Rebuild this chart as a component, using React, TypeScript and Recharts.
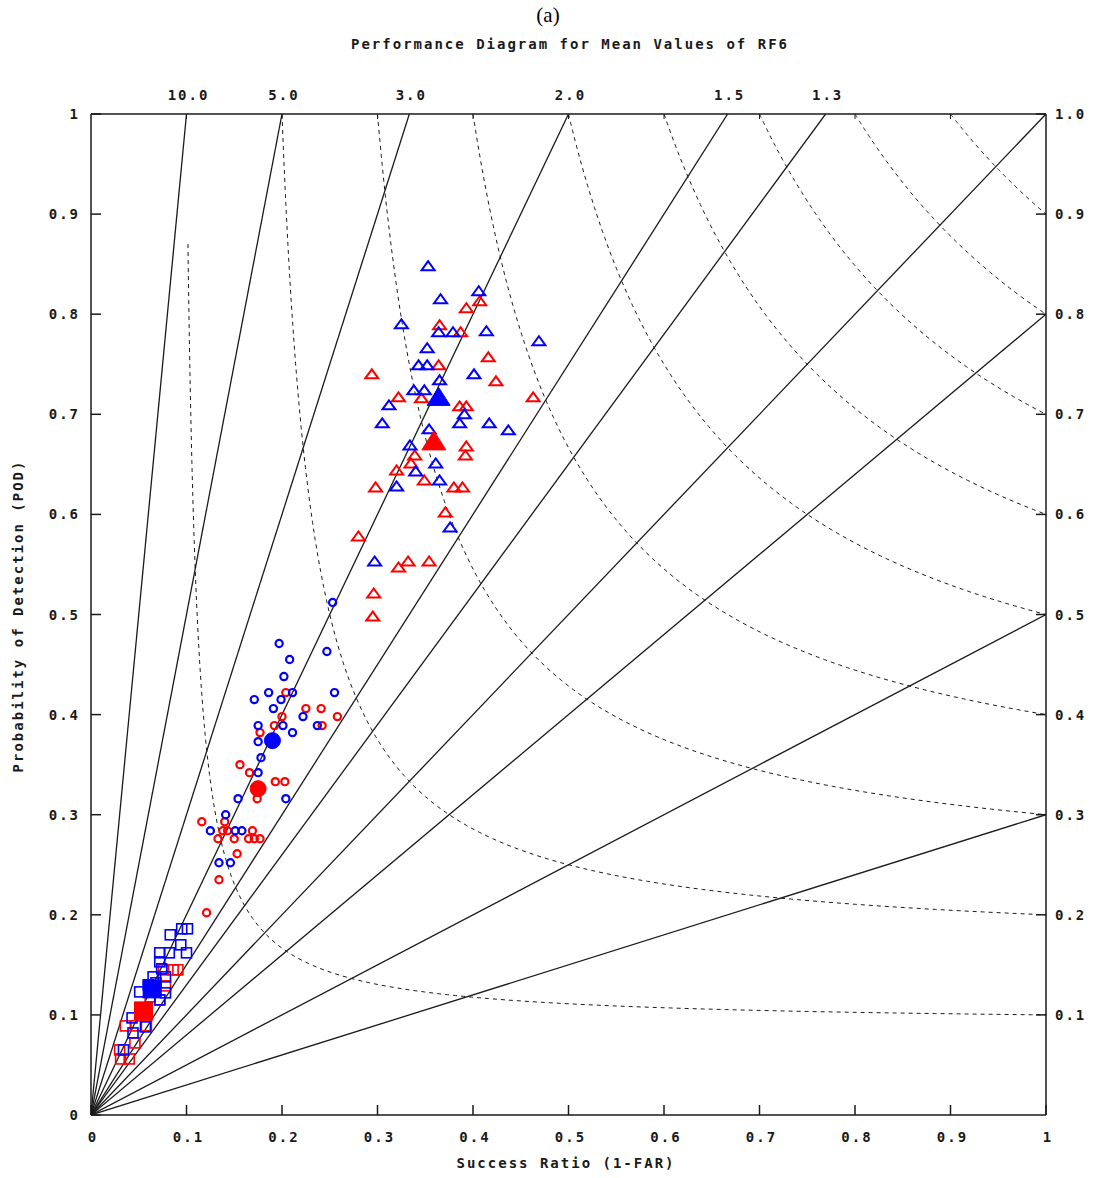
import React from "react";
import { ComposedChart, XAxis, YAxis, Line, Scatter } from "recharts";

// chart geometry (page is 1094x1178)
const W = 1094;
const H = 1178;
const TOP_AXIS_H = 40;
const BOTTOM_AXIS_H = 63;
const LEFT_AXIS_W = 91;
const RIGHT_AXIS_W = 48;
const PLOT_TOP = 114;

const INK = "#1a1a1a";
const RED = "#ff0000";
const BLUE = "#0000ff";

// axis ticks
const X_TICKS = [0, 0.1, 0.2, 0.3, 0.4, 0.5, 0.6, 0.7, 0.8, 0.9, 1];
const X_TICK_LABELS = ["0", "0.1", "0.2", "0.3", "0.4", "0.5", "0.6", "0.7", "0.8", "0.9", "1"];
const Y_TICKS = [0, 0.1, 0.2, 0.3, 0.4, 0.5, 0.6, 0.7, 0.8, 0.9, 1];
const Y_TICK_LABELS = ["0", "0.1", "0.2", "0.3", "0.4", "0.5", "0.6", "0.7", "0.8", "0.9", "1"];
const RIGHT_TICKS = [0.1, 0.2, 0.3, 0.4, 0.5, 0.6, 0.7, 0.8, 0.9, 1];
const RIGHT_TICK_LABELS = ["0.1", "0.2", "0.3", "0.4", "0.5", "0.6", "0.7", "0.8", "0.9", "1.0"];
const TOP_MINOR_TICKS = [0.1, 0.2, 0.3, 0.4, 0.5, 0.6, 0.7, 0.8, 0.9];

// frequency bias lines and the labels shown along the top
const BIAS_LEVELS = [10, 5, 3, 2, 1.5, 1.3, 1.0, 0.8, 0.5, 0.3];
const BIAS_TOP = [10, 5, 3, 2, 1.5, 1.3];
const BIAS_TOP_LABELS = ["10.0", "5.0", "3.0", "2.0", "1.5", "1.3"];

// critical success index contours (csi 0.1 is only drawn from POD 0.87 down)
const CSI_LEVELS = [0.1, 0.2, 0.3, 0.4, 0.5, 0.6, 0.7, 0.8, 0.9];
const CSI_TOP_POD = [0.87, 1, 1, 1, 1, 1, 1, 1, 1];

// [success ratio, POD]
const redTriangles = [
  [0.407, 0.813], [0.393, 0.806], [0.365, 0.789], [0.387, 0.782], [0.364, 0.749],
  [0.294, 0.740], [0.416, 0.757], [0.424, 0.733], [0.322, 0.717], [0.346, 0.716],
  [0.386, 0.708], [0.393, 0.708], [0.463, 0.717], [0.393, 0.668], [0.392, 0.659],
  [0.339, 0.659], [0.335, 0.651], [0.320, 0.644], [0.349, 0.634], [0.298, 0.627],
  [0.380, 0.627], [0.389, 0.627], [0.371, 0.602], [0.280, 0.578], [0.332, 0.553],
  [0.322, 0.547], [0.354, 0.553], [0.296, 0.521], [0.295, 0.498],
];
const blueTriangles = [
  [0.353, 0.848], [0.366, 0.815], [0.406, 0.823], [0.325, 0.790], [0.364, 0.782],
  [0.379, 0.782], [0.414, 0.783], [0.469, 0.773], [0.352, 0.766], [0.343, 0.749],
  [0.352, 0.749], [0.401, 0.740], [0.365, 0.734], [0.338, 0.724], [0.349, 0.724],
  [0.312, 0.709], [0.305, 0.691], [0.391, 0.700], [0.386, 0.691], [0.417, 0.691],
  [0.437, 0.684], [0.354, 0.685], [0.334, 0.669], [0.361, 0.651], [0.340, 0.643],
  [0.365, 0.634], [0.320, 0.628], [0.376, 0.587], [0.297, 0.553],
];
const redCircles = [
  [0.204, 0.422], [0.225, 0.406], [0.241, 0.406], [0.258, 0.398], [0.200, 0.398],
  [0.192, 0.389], [0.242, 0.389], [0.177, 0.382], [0.156, 0.350], [0.166, 0.342],
  [0.193, 0.333], [0.203, 0.333], [0.174, 0.316], [0.116, 0.293], [0.140, 0.293],
  [0.138, 0.284], [0.143, 0.284], [0.133, 0.276], [0.150, 0.276], [0.169, 0.284],
  [0.165, 0.276], [0.171, 0.276], [0.177, 0.276], [0.153, 0.261], [0.134, 0.235],
  [0.121, 0.202],
];
const blueCircles = [
  [0.253, 0.512], [0.197, 0.471], [0.247, 0.463], [0.208, 0.455], [0.202, 0.438],
  [0.186, 0.422], [0.171, 0.415], [0.211, 0.422], [0.255, 0.422], [0.199, 0.415],
  [0.191, 0.406], [0.222, 0.398], [0.175, 0.389], [0.201, 0.389], [0.237, 0.389],
  [0.211, 0.382], [0.175, 0.373], [0.178, 0.357], [0.175, 0.342], [0.154, 0.316],
  [0.204, 0.316], [0.141, 0.300], [0.125, 0.284], [0.151, 0.284], [0.158, 0.284],
  [0.134, 0.252], [0.146, 0.252],
];
const redSquares = [
  [0.076, 0.145], [0.086, 0.145], [0.091, 0.145], [0.078, 0.129], [0.072, 0.115],
  [0.062, 0.118], [0.036, 0.089], [0.047, 0.089], [0.058, 0.089], [0.046, 0.072],
  [0.030, 0.065], [0.031, 0.056], [0.040, 0.056],
];
const blueSquares = [
  [0.095, 0.186], [0.101, 0.186], [0.083, 0.180], [0.094, 0.170], [0.100, 0.162],
  [0.072, 0.162], [0.082, 0.162], [0.072, 0.153], [0.074, 0.146], [0.065, 0.138],
  [0.078, 0.138], [0.060, 0.130], [0.068, 0.132], [0.051, 0.123], [0.078, 0.122],
  [0.072, 0.115], [0.043, 0.097], [0.057, 0.088], [0.044, 0.082], [0.034, 0.065],
];
const redMeans = { tri: [0.359, 0.673], circ: [0.175, 0.326], sq: [0.055, 0.104] };
const blueMeans = { tri: [0.364, 0.717], circ: [0.190, 0.374], sq: [0.064, 0.126] };

const toPts = (arr: number[][]) => arr.map(([x, y]) => ({ x, y }));

const biasLines = BIAS_LEVELS.map((b) => ({
  b,
  data: [
    { x: 0, y: 0 },
    { x: Math.min(1, 1 / b), y: Math.min(1, b) },
  ],
}));

// contour of constant csi: 1/csi = 1/sr + 1/pod - 1
const csiLines = CSI_LEVELS.map((c, i) => {
  const top = CSI_TOP_POD[i];
  const s0 = 1 / (1 / c + 1 - 1 / top);
  const data: { x: number; y: number }[] = [];
  const n = 120;
  for (let k = 0; k <= n; k++) {
    const t = k / n;
    const sr = s0 + (1 - s0) * t * t;
    data.push({ x: sr, y: 1 / (1 / c + 1 - 1 / sr) });
  }
  return { c, data };
});

const monoFont: React.CSSProperties = {
  fontFamily: "'DejaVu Sans Mono', monospace",
  fontWeight: "bold",
  fontSize: 14,
  letterSpacing: 2,
};

const LeftTick = (p: any) => {
  const i = Y_TICKS.indexOf(p.payload.value);
  return (
    <g>
      <line x1={p.x} y1={p.y} x2={p.x + 10} y2={p.y} stroke={INK} strokeWidth={1.5} />
      <text x={p.x - 11} y={p.y + 5} textAnchor="end" fill={INK} style={monoFont}>
        {Y_TICK_LABELS[i]}
      </text>
    </g>
  );
};

const RightTick = (p: any) => {
  const i = RIGHT_TICKS.indexOf(p.payload.value);
  return (
    <g>
      <line x1={p.x - 10} y1={p.y} x2={p.x} y2={p.y} stroke={INK} strokeWidth={1.5} />
      <text x={p.x + 9} y={p.y + 5} textAnchor="start" fill={INK} style={monoFont}>
        {RIGHT_TICK_LABELS[i]}
      </text>
    </g>
  );
};

const BottomTick = (p: any) => {
  const i = X_TICKS.indexOf(p.payload.value);
  return (
    <g>
      <line x1={p.x} y1={p.y - 10} x2={p.x} y2={p.y} stroke={INK} strokeWidth={1.5} />
      <text x={p.x + 2} y={p.y + 27} textAnchor="middle" fill={INK} style={monoFont}>
        {X_TICK_LABELS[i]}
      </text>
    </g>
  );
};

// minor ticks plus the bias label positions, without duplicates
const topTickValues = [...TOP_MINOR_TICKS, ...BIAS_TOP.map((b) => 1 / b)]
  .sort((a, b) => a - b)
  .filter((v, i, arr) => i === 0 || Math.abs(v - arr[i - 1]) > 1e-6);

const TopTick = (p: any) => {
  const v = p.payload.value;
  const bi = BIAS_TOP.findIndex((b) => Math.abs(1 / b - v) < 1e-6);
  const minor = TOP_MINOR_TICKS.some((t) => Math.abs(t - v) < 1e-6);
  return (
    <g>
      {minor && <line x1={p.x} y1={p.y} x2={p.x} y2={p.y + 5} stroke={INK} strokeWidth={1} />}
      {bi >= 0 && (
        <text x={p.x + 2} y={p.y - 14} textAnchor="middle" fill={INK} style={monoFont}>
          {BIAS_TOP_LABELS[bi]}
        </text>
      )}
    </g>
  );
};

const makeTri = (color: string, filled: boolean, w: number, h: number) => (p: any) => {
  const { cx, cy } = p;
  const pts = `${cx},${cy - h * 0.55} ${cx - w / 2},${cy + h * 0.45} ${cx + w / 2},${cy + h * 0.45}`;
  return (
    <polygon
      points={pts}
      fill={filled ? color : "none"}
      stroke={color}
      strokeWidth={filled ? 1 : 2}
    />
  );
};

const makeCirc = (color: string, filled: boolean, r: number) => (p: any) => (
  <circle
    cx={p.cx}
    cy={p.cy}
    r={r}
    fill={filled ? color : "none"}
    stroke={color}
    strokeWidth={filled ? 1 : 2.2}
  />
);

const makeSq = (color: string, filled: boolean, s: number) => (p: any) => (
  <rect
    x={p.cx - s / 2}
    y={p.cy - s / 2}
    width={s}
    height={s}
    fill={filled ? color : "none"}
    stroke={color}
    strokeWidth={filled ? 1 : 1.6}
  />
);

export default function App() {
  return (
    <div style={{ position: "absolute", left: 0, top: 0, width: W, height: H, background: "#fff" }}>
      <div
        style={{
          position: "absolute",
          left: 0,
          width: 1096,
          top: 3,
          textAlign: "center",
          fontFamily: "'Liberation Serif', serif",
          fontSize: 21,
          color: "#000",
        }}
      >
        (a)
      </div>
      <div
        style={{
          position: "absolute",
          left: 0,
          width: 1140,
          top: 36,
          textAlign: "center",
          color: INK,
          ...monoFont,
        }}
      >
        Performance Diagram for Mean Values of RF6
      </div>
      <div
        style={{
          position: "absolute",
          left: 0,
          width: 1132,
          top: 1155,
          textAlign: "center",
          color: INK,
          ...monoFont,
        }}
      >
        Success Ratio (1-FAR)
      </div>
      <div
        style={{
          position: "absolute",
          left: 18,
          top: 616,
          transform: "translate(-50%, -50%) rotate(-90deg)",
          whiteSpace: "nowrap",
          color: INK,
          ...monoFont,
        }}
      >
        Probability of Detection (POD)
      </div>

      <ComposedChart
        width={W}
        height={H}
        margin={{ top: PLOT_TOP - TOP_AXIS_H, right: 0, bottom: 0, left: 0 }}
        style={{ position: "absolute", left: 0, top: 0 }}
      >
        <XAxis
          dataKey="x"
          type="number"
          domain={[0, 1]}
          ticks={X_TICKS}
          interval={0}
          height={BOTTOM_AXIS_H}
          tickSize={0}
          tickMargin={0}
          tickLine={false}
          tick={BottomTick}
          axisLine={{ stroke: INK, strokeWidth: 1.5 }}
          allowDataOverflow
        />
        <XAxis
          xAxisId="top"
          orientation="top"
          dataKey="x"
          type="number"
          domain={[0, 1]}
          ticks={topTickValues}
          interval={0}
          height={TOP_AXIS_H}
          tickSize={0}
          tickMargin={0}
          tickLine={false}
          tick={TopTick}
          axisLine={{ stroke: INK, strokeWidth: 1.5 }}
          allowDataOverflow
        />
        <YAxis
          dataKey="y"
          type="number"
          domain={[0, 1]}
          ticks={Y_TICKS}
          interval={0}
          width={LEFT_AXIS_W}
          tickSize={0}
          tickMargin={0}
          tickLine={false}
          tick={LeftTick}
          axisLine={{ stroke: INK, strokeWidth: 1.5 }}
          allowDataOverflow
        />
        <YAxis
          yAxisId="right"
          orientation="right"
          dataKey="y"
          type="number"
          domain={[0, 1]}
          ticks={RIGHT_TICKS}
          interval={0}
          width={RIGHT_AXIS_W}
          tickSize={0}
          tickMargin={0}
          tickLine={false}
          tick={RightTick}
          axisLine={{ stroke: INK, strokeWidth: 1.5 }}
          allowDataOverflow
        />

        {csiLines.map(({ c, data }) => (
          <Line
            key={`csi-${c}`}
            data={data}
            dataKey="y"
            type="linear"
            dot={false}
            stroke={INK}
            strokeWidth={1}
            strokeDasharray="4 4"
            isAnimationActive={false}
          />
        ))}
        {biasLines.map(({ b, data }) => (
          <Line
            key={`bias-${b}`}
            data={data}
            dataKey="y"
            type="linear"
            dot={false}
            stroke={INK}
            strokeWidth={1.3}
            isAnimationActive={false}
          />
        ))}

        <Scatter data={toPts(redTriangles)} shape={makeTri(RED, false, 13, 9)} isAnimationActive={false} />
        <Scatter data={toPts(blueTriangles)} shape={makeTri(BLUE, false, 13, 9)} isAnimationActive={false} />
        <Scatter data={toPts(redCircles)} shape={makeCirc(RED, false, 3.6)} isAnimationActive={false} />
        <Scatter data={toPts(blueCircles)} shape={makeCirc(BLUE, false, 3.6)} isAnimationActive={false} />
        <Scatter data={toPts(redSquares)} shape={makeSq(RED, false, 10)} isAnimationActive={false} />
        <Scatter data={toPts(blueSquares)} shape={makeSq(BLUE, false, 10)} isAnimationActive={false} />

        <Scatter data={toPts([blueMeans.tri])} shape={makeTri(BLUE, true, 23, 18)} isAnimationActive={false} />
        <Scatter data={toPts([redMeans.tri])} shape={makeTri(RED, true, 24, 19)} isAnimationActive={false} />
        <Scatter data={toPts([blueMeans.circ])} shape={makeCirc(BLUE, true, 8)} isAnimationActive={false} />
        <Scatter data={toPts([redMeans.circ])} shape={makeCirc(RED, true, 8)} isAnimationActive={false} />
        <Scatter data={toPts([blueMeans.sq])} shape={makeSq(BLUE, true, 18)} isAnimationActive={false} />
        <Scatter data={toPts([redMeans.sq])} shape={makeSq(RED, true, 18)} isAnimationActive={false} />
      </ComposedChart>
    </div>
  );
}
